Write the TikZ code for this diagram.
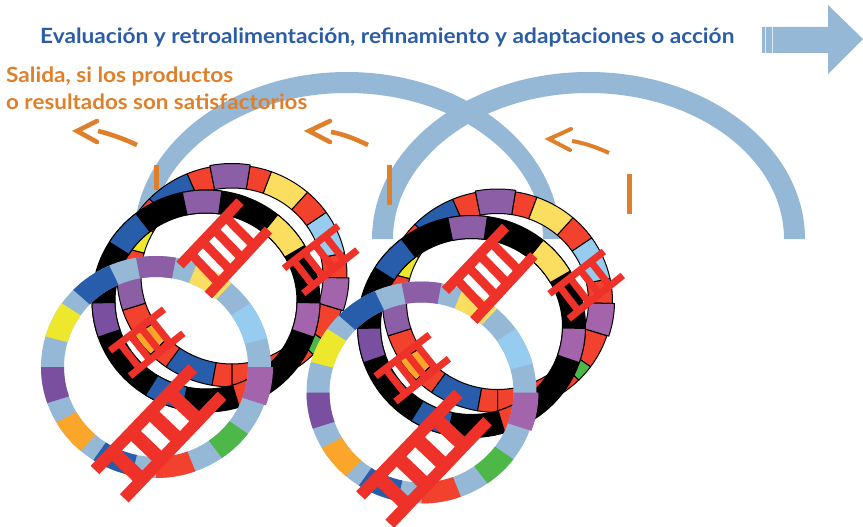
\documentclass[tikz,border=0pt]{standalone}
\usepackage{fontspec}
\usepackage{graphicx}
\setmainfont{Lato}
\usetikzlibrary{calc}
\definecolor{cArc}{HTML}{95B8D7}
\definecolor{cTitle}{HTML}{2A5CA8}
\definecolor{cOr}{HTML}{E07F2A}
\definecolor{cP}{HTML}{8B5EA5}
\definecolor{cDP}{HTML}{7A4FA0}
\definecolor{cM}{HTML}{A464AB}
\definecolor{cR}{HTML}{F2412C}
\definecolor{cY}{HTML}{FBDD60}
\definecolor{cBY}{HTML}{EEE82D}
\definecolor{cB}{HTML}{275DAA}
\definecolor{cS}{HTML}{96CCEF}
\definecolor{cO}{HTML}{F9A62B}
\definecolor{cG}{HTML}{4DB848}
\definecolor{cL}{HTML}{EE3129}
\tikzset{
  orangeline/.style={draw=cOr,line width=4.6pt},
  outlined/.style={draw=black,line width=1pt,line join=round},
  bare/.style={draw=none},
}
% segment of an elliptical band: style, colour, from, to, outer rx, ry, inner rx, ry
\newcommand{\bandseg}[8]{%
  \path[#1,fill=#2] (#3:#5pt and #6pt) arc[start angle=#3,end angle=#4,x radius=#5pt,y radius=#6pt]
    -- (#4:#7pt and #8pt) arc[start angle=#4,end angle=#3,x radius=#7pt,y radius=#8pt] -- cycle;}
% ladder: rail ends p1 p2, p3 p4, rail width; rung width in \rungw
\newcommand{\ladderat}[9]{%
  \coordinate (la) at (#1,#2); \coordinate (lb) at (#3,#4);
  \coordinate (lc) at (#5,#6); \coordinate (ld) at (#7,#8);
  \draw[cL,line width=#9pt] (la) -- (lb);
  \draw[cL,line width=#9pt] (lc) -- (ld);
  \foreach \t in {.24,.435,.625,.82}{\draw[cL,line width=\rungw pt] ($(la)!\t!(lb)$) -- ($(lc)!\t!(ld)$);}}
\newcommand{\ringgroup}{%
  % back ring, coloured segments outlined in black
  \begin{scope}[shift={(232,-276)}]
    \foreach \c/\a/\b in {cR/-36/-18,cR/-1/12,cS/12/35,cR/35/49,cY/49/70,cR/70/81,
      cR/101/113,cB/113/136,cR/136/150,cBY/150/165,cR/165/176,cR/198/212,cO/212/225,
      cR/225/235,cB/235/260,cR/260/270,cR/270/282,cR/282/315,cG/315/324}
      {\bandseg{outlined}{\c}{\a}{\b}{115}{111}{91}{88}}
    \bandseg{outlined}{cM}{-18}{-1}{117}{112}{91}{88}
    \bandseg{outlined}{cP}{81}{101}{116}{112.5}{91}{88}
    \bandseg{outlined}{cP}{176}{198}{115}{111}{91}{88}
  \end{scope}
  % black ring
  \begin{scope}[shift={(206,-301)}]
    \bandseg{outlined}{black}{0}{360}{114}{111}{91}{88}
    \foreach \c/\a/\b in {cM/-19/-1,cY/30/51,cP/82/102,cB/128/148,cDP/181/199,cB/238/258,cR/287/303}
      {\bandseg{outlined}{\c}{\a}{\b}{114}{111}{91}{88}}
  \end{scope}
  % front ring, no outline
  \begin{scope}[shift={(156,-367)}]
    \bandseg{bare}{cArc}{0}{360}{115}{111}{92}{90}
    \foreach \c/\a/\b in {cS/15/35,cY/49/69,cP/80/100,cB/114/136,cBY/145/164,cDP/180/199,
      cO/210/229,cB/237/258,cR/270/290,cG/305/323}
      {\bandseg{bare}{\c}{\a}{\b}{115}{111}{92}{90}}
    \bandseg{bare}{cM}{-20}{0}{117}{112}{92}{90}
  \end{scope}
  \def\rungw{9}
  \ladderat{240}{-201.7}{180}{-265}{268.3}{-230}{208.3}{-295}{10}
  \def\rungw{7}
  \ladderat{338.3}{-226}{284}{-268.3}{357.3}{-250}{303.3}{-293.3}{7}
  \ladderat{164}{-309.3}{110}{-350.7}{183.3}{-333.3}{130}{-376}{7}
  \def\rungw{14}
  \ladderat{192.7}{-368.3}{95}{-470}{222}{-395.7}{124.3}{-498.3}{12}
}
\begin{document}
\begin{tikzpicture}[x=1pt,y=1pt]
\useasboundingbox (0,0) rectangle (863,-527);
% title
\node[anchor=base west,inner sep=0pt,text=cTitle] (title) at (40,-44)
  {\resizebox{694pt}{\height}{\fontsize{21}{24}\selectfont\bfseries Evaluación y retroalimentación, refinamiento y adaptaciones o acción}};
% block arrow
\path[fill=cArc] (762,-27) -- (828,-27) -- (828,-5) -- (863,-39) -- (828,-74) -- (828,-53) -- (762,-53) -- cycle;
\draw[white!70!cArc,line width=0.8pt] (765.5,-27) -- (765.5,-53);
\draw[white!70!cArc,line width=0.8pt] (772,-27) -- (772,-53);
% large arcs
\path[fill=cArc] (560,-239) arc[start angle=0,end angle=180,x radius=213pt,y radius=167pt]
  -- (151,-239) arc[start angle=180,end angle=0,x radius=196pt,y radius=146pt] -- cycle;
\path[fill=cArc] (805,-239) arc[start angle=0,end angle=180,x radius=216.5pt,y radius=167pt]
  -- (393,-239) arc[start angle=180,end angle=0,x radius=195.5pt,y radius=146pt] -- cycle;
% side text
\node[anchor=base west,inner sep=0pt,text=cOr] (out1) at (6,-83)
  {\resizebox{227pt}{\height}{\fontsize{21}{24}\selectfont\bfseries Salida, si los productos}};
\node[anchor=base west,inner sep=0pt,text=cOr] (out2) at (6,-110)
  {\resizebox{301pt}{\height}{\fontsize{21}{24}\selectfont\bfseries o resultados son satisfactorios}};
% orange ticks and arrows
\draw[orangeline,line width=5pt] (156.5,-165) -- (156.5,-190);
\draw[orangeline,line width=5pt] (389.5,-165) -- (389.5,-205);
\draw[orangeline,line width=5pt] (629.5,-174) -- (629.5,-214);
\draw[orangeline] (137,-145) .. controls (122,-138) and (110,-134) .. (98,-131);
\draw[orangeline,line cap=round,line join=miter] (97,-121) -- (77,-131) -- (97,-142);
\draw[orangeline] (368,-145) .. controls (353,-138) and (343,-134) .. (331,-132);
\draw[orangeline,line cap=round,line join=miter] (330,-121) -- (309,-131) -- (330,-142);
\draw[orangeline,line width=4pt] (609,-153) .. controls (596,-147) and (584,-143) .. (572,-141);
\draw[orangeline,line width=4pt,line cap=round,line join=miter] (571,-129) -- (549,-139) -- (570,-150);
% ring groups
\begin{scope}\ringgroup\end{scope}
\begin{scope}[shift={(265.5,-25.5)}]\ringgroup\end{scope}
\end{tikzpicture}
\end{document}
